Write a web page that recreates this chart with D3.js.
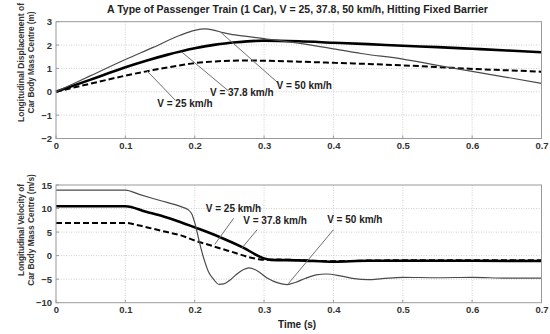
<!DOCTYPE html>
<html>
<head>
<meta charset="utf-8">
<script src="https://cdn.jsdelivr.net/npm/d3@7"></script>
<style>
  html, body { margin: 0; padding: 0; background: #fff; }
  svg { display: block; font-family: "Liberation Sans", Arial, sans-serif; }
</style>
</head>
<body>
<svg id="chart" width="550" height="334"></svg>
<script>
// ---- Data: time (s) and response for each impact speed ----
const seriesNames = ["V = 25 km/h", "V = 37.8 km/h", "V = 50 km/h"];

// Longitudinal displacement of car body mass centre (m)
const disp25 = [[0,0],[0.05,0.35],[0.1,0.69],[0.14,0.93],[0.18,1.14],[0.2,1.23],[0.23,1.3],[0.27,1.34],[0.3,1.33],[0.35,1.29],[0.4,1.24],[0.45,1.19],[0.5,1.13],[0.55,1.06],[0.6,0.98],[0.65,0.92],[0.7,0.86]];
const disp378 = [[0,0],[0.05,0.52],[0.1,1.05],[0.13,1.33],[0.16,1.58],[0.2,1.86],[0.23,2.02],[0.26,2.12],[0.3,2.19],[0.35,2.16],[0.4,2.1],[0.45,2.04],[0.5,1.97],[0.55,1.91],[0.6,1.84],[0.65,1.77],[0.7,1.69]];
const disp50 = [[0,0],[0.05,0.69],[0.1,1.38],[0.14,1.9],[0.179,2.42],[0.2,2.63],[0.215,2.69],[0.227,2.64],[0.241,2.53],[0.251,2.47],[0.275,2.37],[0.304,2.26],[0.323,2.19],[0.352,2.07],[0.4,1.84],[0.44,1.64],[0.5,1.4],[0.55,1.13],[0.6,0.87],[0.65,0.62],[0.7,0.36]];

// Longitudinal velocity of car body mass centre (m/s)
const vel25 = [[0,6.95],[0.1,6.95],[0.12,6.4],[0.14,5.7],[0.16,5.0],[0.18,4.3],[0.2,3.2],[0.22,2.3],[0.24,1.4],[0.26,0.5],[0.275,-0.2],[0.29,-0.7],[0.3,-0.9],[0.32,-0.85],[0.35,-0.95],[0.4,-1.2],[0.45,-1.05],[0.5,-1.0],[0.6,-1.0],[0.7,-1.0]];
const vel378 = [[0,10.5],[0.1,10.5],[0.13,9.3],[0.155,8.3],[0.18,7.1],[0.2,6.0],[0.22,4.9],[0.24,3.7],[0.27,1.7],[0.3,-0.6],[0.31,-0.9],[0.35,-1.0],[0.4,-1.3],[0.45,-1.1],[0.5,-1.1],[0.6,-1.1],[0.7,-1.15]];
const vel50 = [[0,13.9],[0.1,13.9],[0.12,13.0],[0.15,11.7],[0.18,10.4],[0.19,9.8],[0.196,8.8],[0.2,7.0],[0.205,4.0],[0.21,1.0],[0.215,-1.5],[0.22,-3.5],[0.227,-5.0],[0.235,-6.1],[0.242,-6.0],[0.25,-5.3],[0.26,-4.0],[0.27,-3.0],[0.278,-2.6],[0.29,-3.2],[0.305,-4.8],[0.32,-5.8],[0.333,-6.15],[0.345,-5.7],[0.36,-4.8],[0.375,-4.1],[0.39,-3.9],[0.41,-4.3],[0.43,-4.9],[0.45,-5.1],[0.47,-4.9],[0.5,-4.6],[0.55,-4.7],[0.6,-4.6],[0.65,-4.8],[0.7,-4.8]];

// Tick values
const timeTicks = [0, 0.1, 0.2, 0.3, 0.4, 0.5, 0.6, 0.7];
const dispTicks = [-2, -1, 0, 1, 2, 3];
const velTicks = [-10, -5, 0, 5, 10, 15];

// Annotation callouts: [label, anchor t, anchor value, leader end t, leader end value, text t, text value]
const dispNotes = [
  [seriesNames[0], 0.131, 0.9, 0.172, -0.36, 0.146, -0.67],
  [seriesNames[1], 0.181, 1.71, 0.249, 0.03, 0.222, -0.2],
  [seriesNames[2], 0.237, 2.56, 0.322, 0.33, 0.318, 0.12]
];
const velNotes = [
  [seriesNames[0], 0.229, 2.4, 0.256, 7.9, 0.216, 9.2],
  [seriesNames[1], 0.268, 1.6, 0.29, 5.5, 0.27, 6.7],
  [seriesNames[2], 0.335, -5.95, 0.4, 5.5, 0.391, 6.9]
];

const titleText = "A Type of Passenger Train (1 Car), V = 25, 37.8, 50 km/h, Hitting Fixed Barrier";

// ---- Drawing ----
const svg = d3.select("#chart");
const left = 56, right = 541.5;

const styles = [
  { stroke: "#000", width: 2, dash: "6,3" },   // 25 km/h
  { stroke: "#000", width: 2.6, dash: null },  // 37.8 km/h
  { stroke: "#4a4a4a", width: 1.2, dash: null } // 50 km/h
];

function fitText(sel, target) {
  const node = sel.node();
  const fs = parseFloat(sel.attr("font-size"));
  const len = node.getComputedTextLength();
  sel.attr("font-size", (fs * target / len).toFixed(2));
}

function panel(top, bottom, yDomain, yTicks, series, notes, yLabels, labelCenter) {
  const x = d3.scaleLinear().domain([0, 0.7]).range([left, right]);
  const y = d3.scaleLinear().domain(yDomain).range([bottom, top]);
  const g = svg.append("g");

  // grid
  const grid = g.append("g").attr("stroke", "#c4c4c4").attr("stroke-width", 0.8).attr("stroke-dasharray", "1,1.5");
  grid.selectAll(".vg").data(timeTicks.slice(1, -1)).join("line")
    .attr("x1", d => x(d)).attr("x2", d => x(d)).attr("y1", top).attr("y2", bottom);
  grid.selectAll(".hg").data(yTicks.slice(1, -1)).join("line")
    .attr("y1", d => y(d)).attr("y2", d => y(d)).attr("x1", left).attr("x2", right);

  // axes (tick labels only, matlab style)
  const xAxis = d3.axisBottom(x).tickValues(timeTicks).tickSize(0).tickPadding(4)
    .tickFormat(d => d === 0 ? "0" : d3.format(".1f")(d));
  const xa = g.append("g").attr("transform", `translate(0,${bottom})`).call(xAxis);
  const yAxis = d3.axisLeft(y).tickValues(yTicks).tickSize(0).tickPadding(4).tickFormat(d3.format("d"));
  const ya = g.append("g").attr("transform", `translate(${left},0)`).call(yAxis);
  [xa, ya].forEach(a => {
    a.select(".domain").remove();
    a.selectAll("text").attr("font-size", 9.5).attr("font-weight", "bold").attr("fill", "#333")
      .attr("font-family", "Liberation Sans, Arial, sans-serif");
  });

  // inner tick marks
  const tk = g.append("g").attr("stroke", "#888").attr("stroke-width", 0.8);
  tk.selectAll(".xt").data(timeTicks).join("line")
    .attr("x1", d => x(d)).attr("x2", d => x(d)).attr("y1", bottom).attr("y2", bottom - 3);
  tk.selectAll(".yt").data(yTicks).join("line")
    .attr("y1", d => y(d)).attr("y2", d => y(d)).attr("x1", left).attr("x2", left + 3);

  // curves
  const line = d3.line().x(d => x(d[0])).y(d => y(d[1])).curve(d3.curveMonotoneX);
  series.forEach((s, i) => {
    g.append("path").datum(s).attr("d", line).attr("fill", "none")
      .attr("stroke", styles[i].stroke).attr("stroke-width", styles[i].width)
      .attr("stroke-dasharray", styles[i].dash).attr("stroke-linejoin", "round");
  });

  // frame
  g.append("rect").attr("x", left).attr("y", top).attr("width", right - left).attr("height", bottom - top)
    .attr("fill", "none").attr("stroke", "#9a9a9a").attr("stroke-width", 1);

  // callouts
  notes.forEach(n => {
    g.append("line").attr("x1", x(n[1])).attr("y1", y(n[2])).attr("x2", x(n[3])).attr("y2", y(n[4]))
      .attr("stroke", "#6e6e6e").attr("stroke-width", 1);
    g.append("text").attr("x", x(n[5])).attr("y", y(n[6])).text(n[0])
      .attr("font-size", 10).attr("font-weight", "bold").attr("fill", "#222");
  });

  // y label (two rotated lines)
  yLabels.forEach((t, i) => {
    const tx = g.append("text")
      .attr("transform", `translate(${23.5 + i * 10},${labelCenter.y}) rotate(-90)`)
      .attr("text-anchor", "middle").attr("font-size", 9).attr("font-weight", "bold").attr("fill", "#333")
      .text(t);
    fitText(tx, labelCenter.w[i]);
  });
  return x;
}

panel(21.7, 138.5, [-2, 3], dispTicks, [disp25, disp378, disp50], dispNotes,
  ["Longitudinal Displacement of", "Car Body Mass Centre (m)"], { y: 62.5, w: [119, 102] });
const xb = panel(185, 302.7, [-10, 15], velTicks, [vel25, vel378, vel50], velNotes,
  ["Longitudinal Velocity of", "Car Body Mass Centre (m/s)"], { y: 230, w: [92, 112] });

// title and time axis label
const title = svg.append("text").attr("x", 297.5).attr("y", 13).attr("text-anchor", "middle")
  .attr("font-size", 9).attr("font-weight", "bold").attr("fill", "#222").text(titleText);
fitText(title, 381);

svg.append("text").attr("x", 278).attr("y", 328).attr("font-size", 10).attr("font-weight", "bold")
  .attr("fill", "#222").text("Time (s)");
</script>
</body>
</html>
